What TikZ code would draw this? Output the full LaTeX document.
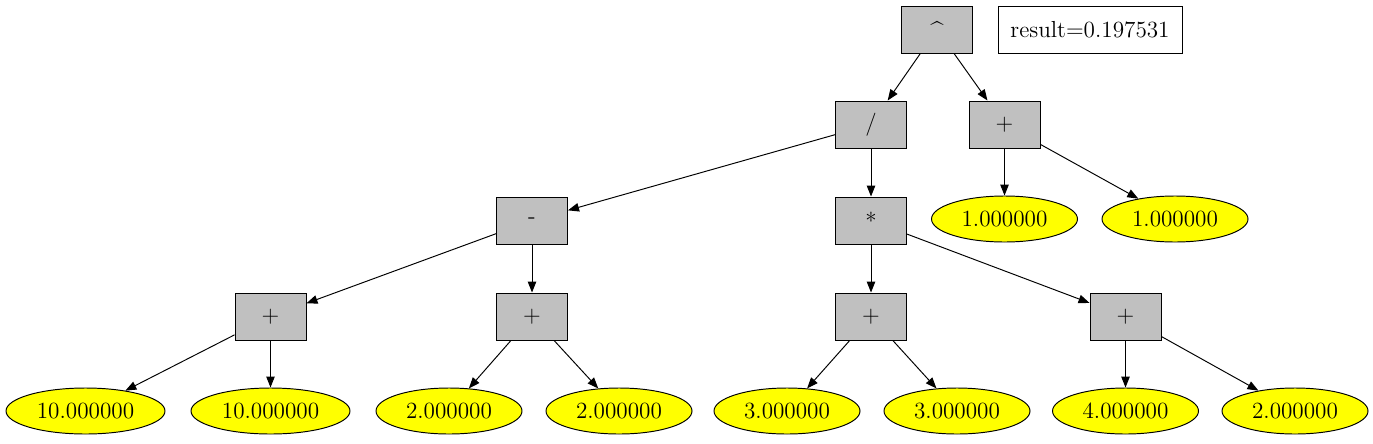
\documentclass[tikz,border=0pt]{standalone}
\usepackage{tikz}
\usetikzlibrary{shapes, arrows.meta, positioning, calc}
\definecolor{opgray}{RGB}{192, 192, 192}
\definecolor{valyellow}{RGB}{255, 255, 0}

\begin{document}
\begin{tikzpicture}[
    font=\fontsize{13.2}{16}\selectfont,
    opbox/.style={draw, fill=opgray, line width=0.55pt, minimum width=1.42cm, minimum height=0.94cm, inner sep=0pt},
    valnode/.style={draw, ellipse, fill=valyellow, line width=0.55pt, minimum width=2.92cm, minimum height=0.92cm, inner sep=0pt},
    edge/.style={-{Triangle[length=0.22cm, width=0.17cm]}, line width=0.55pt}
  ]
  \useasboundingbox (0, 0) rectangle (27.46, -8.86);

  % Root and result
  \node[opbox] (pow) at (18.74, -0.59) {\^{}};
  \node[draw, line width=0.55pt, minimum width=3.68cm, minimum height=0.94cm, inner sep=0pt] (result) at (21.80, -0.59) {result=0.197531};

  % Second level
  \node[opbox] (div) at (17.42, -2.49) {/};
  \node[opbox] (addA) at (20.09, -2.49) {+};

  % Third level
  \node[opbox] (sub) at (10.64, -4.41) {-};
  \node[opbox] (mul) at (17.42, -4.41) {*};
  \node[valnode] (oneA) at (20.09, -4.38) {1.000000};
  \node[valnode] (oneB) at (23.50, -4.38) {1.000000};

  % Fourth level
  \node[opbox] (addB) at (5.41, -6.33) {+};
  \node[opbox] (addC) at (10.64, -6.33) {+};
  \node[opbox] (addD) at (17.42, -6.33) {+};
  \node[opbox] (addE) at (22.51, -6.33) {+};

  % Leaves
  \node[valnode, minimum width=3.18cm] (tenA) at (1.71, -8.22) {10.000000};
  \node[valnode, minimum width=3.18cm] (tenB) at (5.41, -8.22) {10.000000};
  \node[valnode] (twoA) at (8.98, -8.22) {2.000000};
  \node[valnode] (twoB) at (12.38, -8.22) {2.000000};
  \node[valnode] (threeA) at (15.74, -8.22) {3.000000};
  \node[valnode] (threeB) at (19.14, -8.22) {3.000000};
  \node[valnode] (four) at (22.51, -8.22) {4.000000};
  \node[valnode] (twoC) at (25.90, -8.22) {2.000000};

  % Edges
  \draw[edge] (pow) -- (div);
  \draw[edge] (pow) -- (addA);
  \draw[edge] (div) -- (sub);
  \draw[edge] (div) -- (mul);
  \draw[edge] (addA) -- (oneA);
  \draw[edge] (addA) -- (oneB);
  \draw[edge] (sub) -- (addB);
  \draw[edge] (sub) -- (addC);
  \draw[edge] (mul) -- (addD);
  \draw[edge] (mul) -- (addE);
  \draw[edge] (addB) -- (tenA);
  \draw[edge] (addB) -- (tenB);
  \draw[edge] (addC) -- (twoA);
  \draw[edge] (addC) -- (twoB);
  \draw[edge] (addD) -- (threeA);
  \draw[edge] (addD) -- (threeB);
  \draw[edge] (addE) -- (four);
  \draw[edge] (addE) -- (twoC);
\end{tikzpicture}
\end{document}
